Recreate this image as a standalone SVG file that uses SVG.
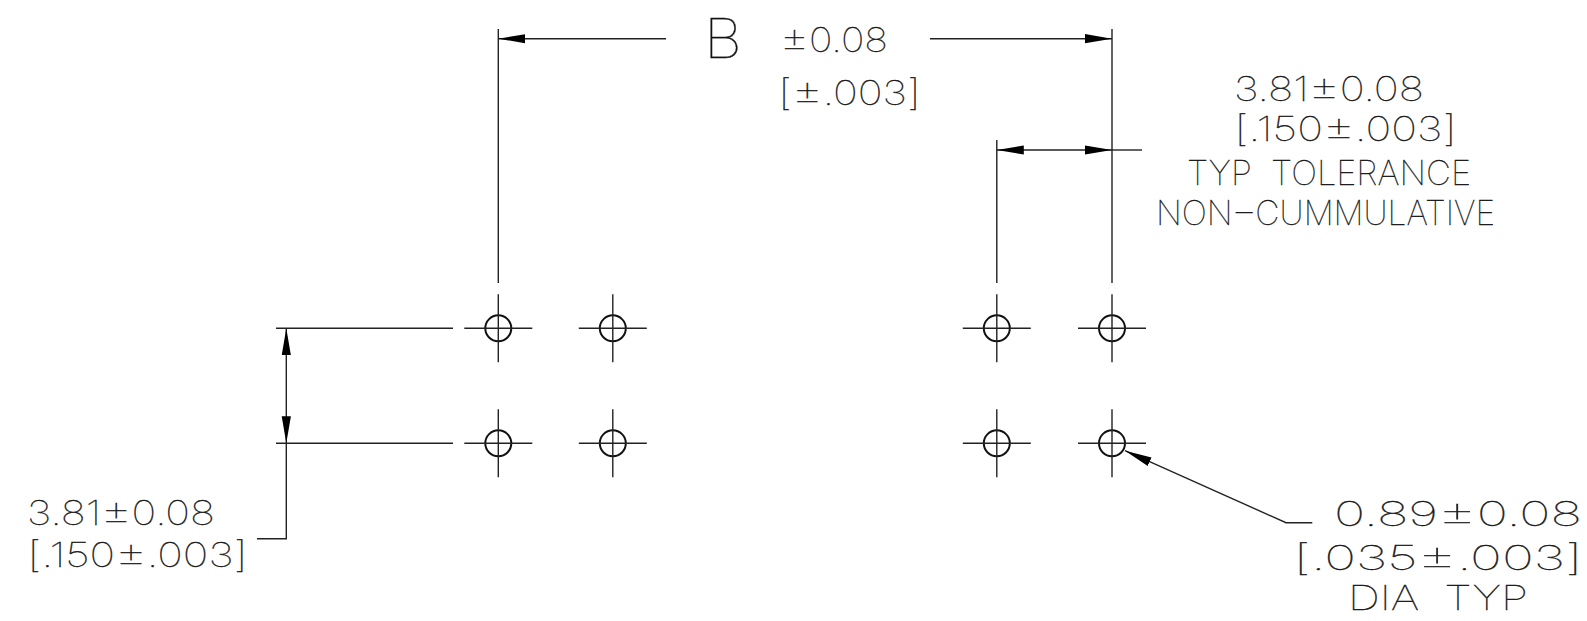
<svg xmlns="http://www.w3.org/2000/svg" width="1587" height="621" viewBox="0 0 1587 621">
<style>
.l{fill:none;stroke:#222;stroke-width:1.4}
.c{fill:none;stroke:#111;stroke-width:2}
.t{font-family:"Inter","Liberation Sans",sans-serif;font-weight:100;font-size:34px;fill:#111;stroke:#111;stroke-width:.3;opacity:.99;white-space:pre}
.b{font-size:36px}
.p{font-size:39px}
.big{font-size:54px}
</style>
<defs>
<marker id="a" markerUnits="userSpaceOnUse" markerWidth="28" markerHeight="10" refX="27" refY="5" orient="auto-start-reverse"><path d="M0 0.4L27 5L0 9.6Z" fill="#000"/></marker>
<g id="h"><circle class="c" r="13"/><path class="l" d="M-34 0H34M0-34V34"/></g>
</defs>
<rect width="1587" height="621" fill="#fff"/>
<g id="connectors">
<path class="l" d="M498.3 29V283M1112 29V283M996.8 140V283"/>
<path class="l" d="M666 38.7H498.3" marker-end="url(#a)"/>
<path class="l" d="M930 38.7H1112" marker-end="url(#a)"/>
<path class="l" d="M996.8 150H1112" marker-start="url(#a)" marker-end="url(#a)"/>
<path class="l" d="M1112 150H1142"/>
<path class="l" d="M276 328.3H453M276 443.3H453"/>
<path class="l" d="M286.3 328.3V443.3" marker-start="url(#a)" marker-end="url(#a)"/>
<path class="l" d="M286.3 443.3V538.7H257"/>
<path class="l" d="M1312.3 522.7H1286L1125 450.7" marker-end="url(#a)"/>
</g>
<g id="hole-1"><use href="#h" x="498.3" y="328.3"/></g>
<g id="hole-2"><use href="#h" x="612.8" y="328.3"/></g>
<g id="hole-3"><use href="#h" x="996.8" y="328.3"/></g>
<g id="hole-4"><use href="#h" x="1112" y="328.3"/></g>
<g id="hole-5"><use href="#h" x="498.3" y="443.3"/></g>
<g id="hole-6"><use href="#h" x="612.8" y="443.3"/></g>
<g id="hole-7"><use href="#h" x="996.8" y="443.3"/></g>
<g id="hole-8"><use href="#h" x="1112" y="443.3"/></g>
<g id="label-b">
<text class="t big" x="704" y="58" textLength="38" lengthAdjust="spacingAndGlyphs">B</text>
<text class="t" x="780" y="52" textLength="108" lengthAdjust="spacingAndGlyphs"><tspan class="p">±</tspan>0.08</text>
<text class="t" x="778" y="105" textLength="143" lengthAdjust="spacingAndGlyphs"><tspan class="b">[</tspan><tspan class="p">±</tspan>.003<tspan class="b">]</tspan></text>
</g>
<g id="label-pitch-top">
<text class="t" x="1234" y="101" textLength="190" lengthAdjust="spacingAndGlyphs">3.81<tspan class="p">±</tspan>0.08</text>
<text class="t" x="1234" y="141" textLength="223" lengthAdjust="spacingAndGlyphs"><tspan class="b">[</tspan>.150<tspan class="p">±</tspan>.003<tspan class="b">]</tspan></text>
<text class="t" x="1187" y="185" textLength="284" lengthAdjust="spacingAndGlyphs">TYP  TOLERANCE</text>
<text class="t" x="1156" y="225" textLength="339" lengthAdjust="spacingAndGlyphs">NON<tspan dx="3">–</tspan><tspan dx="3">CUMMULATIVE</tspan></text>
</g>
<g id="label-pitch-left">
<text class="t" x="27" y="525" textLength="188" lengthAdjust="spacingAndGlyphs">3.81<tspan class="p">±</tspan>0.08</text>
<text class="t" x="27" y="567" textLength="221" lengthAdjust="spacingAndGlyphs"><tspan class="b">[</tspan>.150<tspan class="p">±</tspan>.003<tspan class="b">]</tspan></text>
</g>
<g id="label-dia">
<text class="t" x="1334" y="526" textLength="248" lengthAdjust="spacingAndGlyphs">0.89<tspan class="p">±</tspan>0.08</text>
<text class="t" x="1293" y="570" textLength="290" lengthAdjust="spacingAndGlyphs"><tspan class="b">[</tspan>.035<tspan class="p">±</tspan>.003<tspan class="b">]</tspan></text>
<text class="t" x="1348" y="610" textLength="180" lengthAdjust="spacingAndGlyphs">DIA  TYP</text>
</g>
</svg>
